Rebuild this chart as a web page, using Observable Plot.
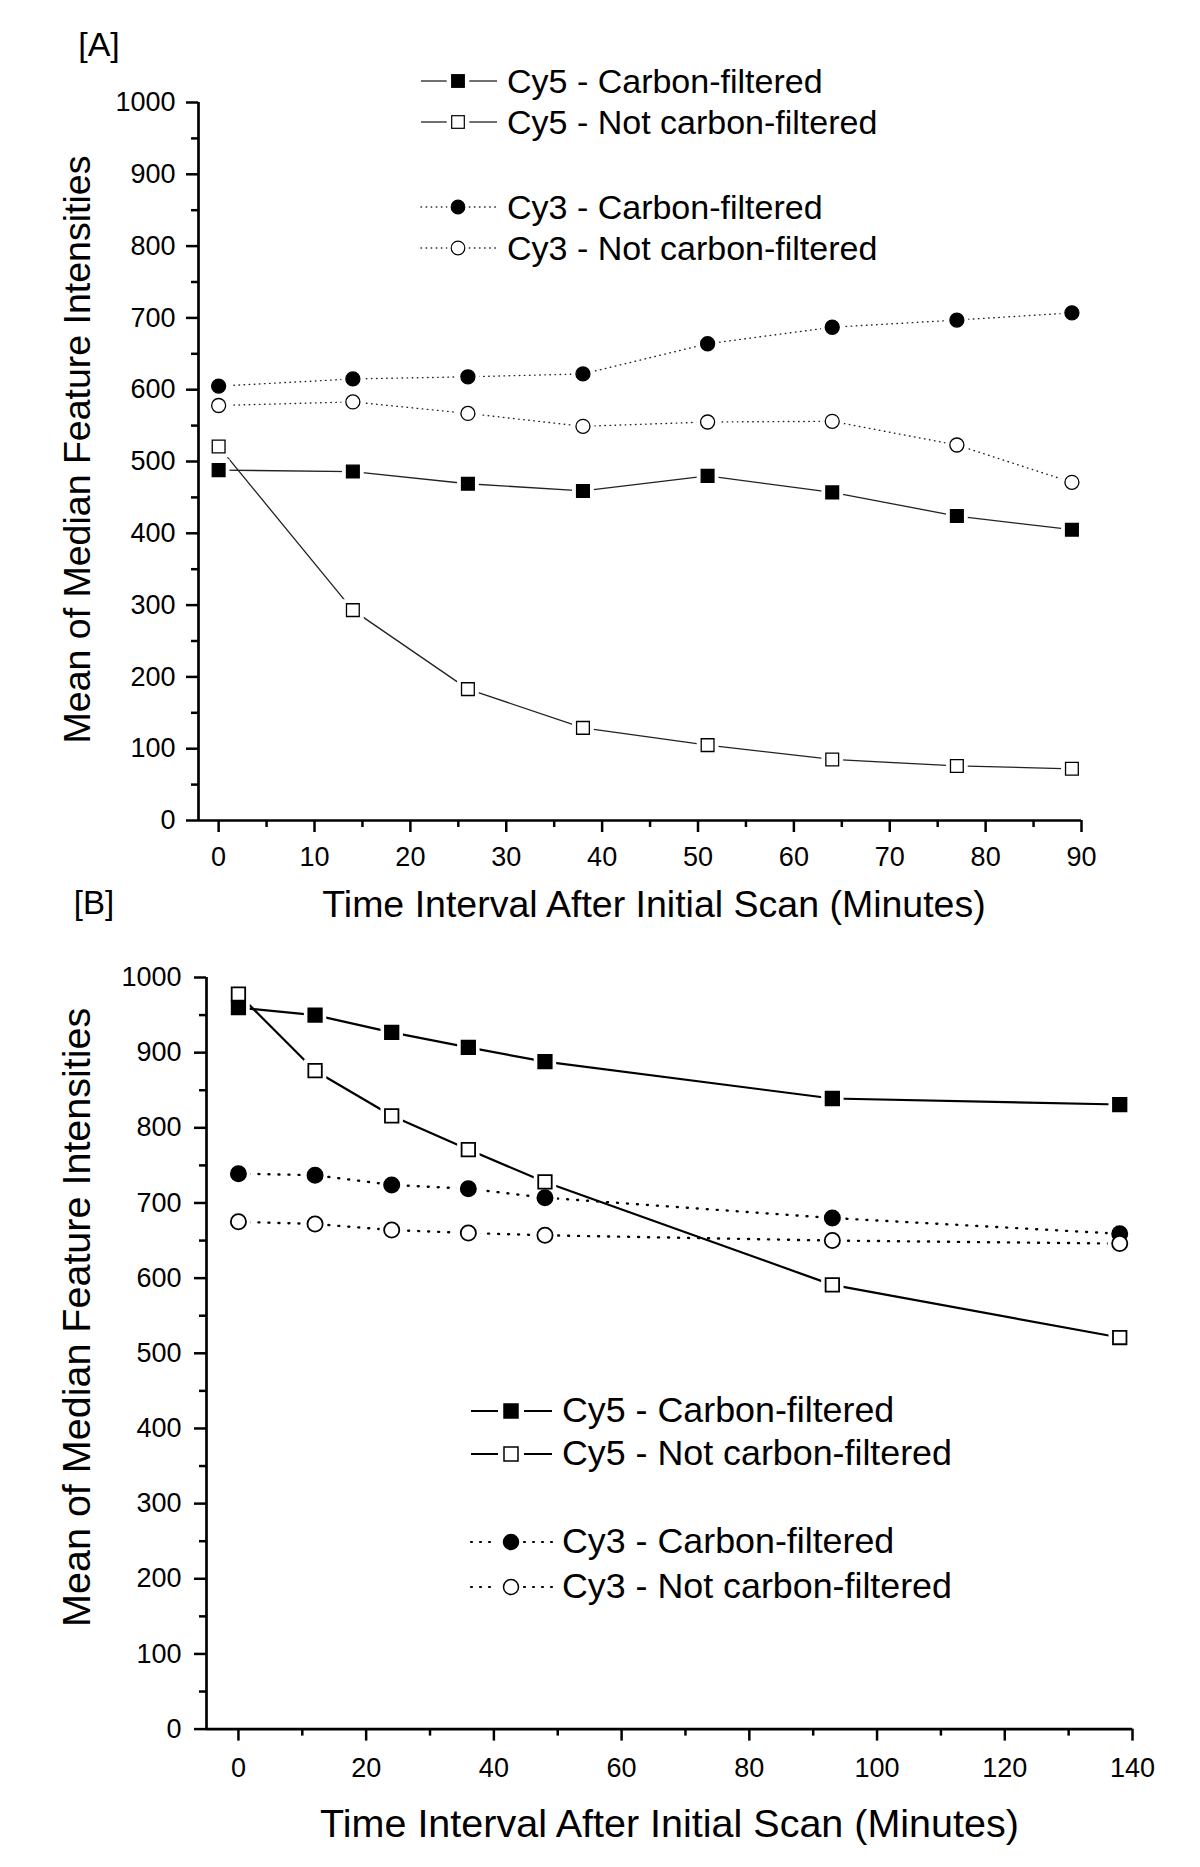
<!DOCTYPE html>
<html><head><meta charset="utf-8">
<script src="https://cdn.jsdelivr.net/npm/d3@7"></script>
<script src="https://cdn.jsdelivr.net/npm/@observablehq/plot@0.6"></script>
<style>
body{margin:0;background:#fff;}
#root{position:relative;width:1200px;height:1867px;font-family:"Liberation Sans",Arial,sans-serif;color:#000;background:#fff;overflow:hidden;}
.abs{position:absolute;}
.lbl{position:absolute;white-space:nowrap;line-height:1;transform:translateY(-50%);}
</style></head><body><div id="root"></div>
<script>
// ---------- data ----------
const seriesNames = ["Cy5 - Carbon-filtered","Cy5 - Not carbon-filtered","Cy3 - Carbon-filtered","Cy3 - Not carbon-filtered"];

const timesA = [0,14,26,38,51,64,77,89];
const cy5CarbonA    = [488,486,469,459,480,457,424,405];
const cy5NotCarbonA = [521,293,183,129,105,85,76,72];
const cy3CarbonA    = [605,615,618,622,664,687,697,707];
const cy3NotCarbonA = [578,583,567,549,555,556,523,471];

const timesB = [0,12,24,36,48,93,138];
const cy5CarbonB    = [960,950,927,907,888,839,831];
const cy5NotCarbonB = [978,876,816,771,728,591,521];
const cy3CarbonB    = [739,737,724,719,707,680,659];
const cy3NotCarbonB = [675,672,664,660,657,650,646];

const yTicks = d3.range(0,1001,100);
const yMinor = d3.range(50,1000,100);
const xTicksA = d3.range(0,91,10), xMinorA = d3.range(5,90,10);
const xTicksB = d3.range(0,141,20), xMinorB = d3.range(10,140,20);
const xDomainA = [-2.1, 90], xDomainB = [-5, 140];
const yTitle = "Mean of Median Feature Intensities";
const xTitle = "Time Interval After Initial Scan (Minutes)";

function toRows(times, arrs){
  const out=[];
  arrs.forEach((vals,i)=>vals.forEach((v,j)=>out.push({series:seriesNames[i], idx:i, t:times[j], v})));
  return out;
}

function panel(cfg){
  const data = toRows(cfg.times, cfg.arrs);
  const marks = [];
  // lines
  seriesNames.forEach((name,i)=>{
    const dotted = i>=2;
    marks.push(Plot.line(data.filter(d=>d.idx===i),{x:"t",y:"v",stroke:cfg.lineColor,
      strokeWidth: dotted?cfg.dotWidth:cfg.lineWidth,
      strokeDasharray: dotted?cfg.dash:null, strokeLinecap: dotted?"round":"butt"}));
  });
  const sq = data.filter(d=>d.idx<2), ci = data.filter(d=>d.idx>=2);
  // halos (gaps in the lines around markers)
  marks.push(Plot.dot(sq,{x:"t",y:"v",symbol:"square",r:cfg.sqR+cfg.gap/1.772*2,fill:"white",stroke:null}));
  marks.push(Plot.dot(ci,{x:"t",y:"v",symbol:"circle",r:cfg.ciR+cfg.gap,fill:"white",stroke:null}));
  // markers
  marks.push(Plot.dot(sq,{x:"t",y:"v",symbol:"square",r:cfg.sqR,fill:d=>d.idx%2===0?"black":"white",stroke:"black",strokeWidth:cfg.mw}));
  marks.push(Plot.dot(ci,{x:"t",y:"v",symbol:"circle",r:cfg.ciR,fill:d=>d.idx%2===0?"black":"white",stroke:"black",strokeWidth:cfg.mw}));
  // axes
  const fmt = d3.format("d");
  marks.push(Plot.axisY(yTicks,{tickSize:12,tickPadding:cfg.yPad,strokeWidth:2.5,label:null,fontSize:27,tickFormat:fmt}));
  marks.push(Plot.axisY(yMinor,{tickSize:7,strokeWidth:2.5,label:null,tickFormat:()=>""}));
  marks.push(Plot.axisX(cfg.xTicks,{tickSize:12,tickPadding:cfg.xPad,strokeWidth:2.5,label:null,fontSize:27,tickFormat:fmt}));
  marks.push(Plot.axisX(cfg.xMinor,{tickSize:7,strokeWidth:2.5,label:null,tickFormat:()=>""}));
  marks.push(Plot.ruleX([cfg.xDomain[0]],{strokeWidth:2.7}));
  marks.push(Plot.ruleY([0],{strokeWidth:2.7}));
  // axis titles
  marks.push(Plot.text([yTitle],{frameAnchor:"left",dx:cfg.yTdx,dy:cfg.yTdy,rotate:-90,fontSize:cfg.titleSize,textAnchor:"middle",lineAnchor:"middle"}));
  marks.push(Plot.text([xTitle],{frameAnchor:"bottom",dx:cfg.xTdx,dy:cfg.xTdy,fontSize:cfg.titleSize,textAnchor:"middle",lineAnchor:"middle"}));
  return Plot.plot({
    width:1200, height:cfg.height,
    marginLeft:cfg.ml, marginRight:cfg.mr, marginTop:cfg.mt, marginBottom:cfg.mb,
    x:{domain:cfg.xDomain}, y:{domain:[0,1000]},
    style:{fontFamily:'"Liberation Sans", Arial, sans-serif', fontSize:"27px", color:"black", background:"white", overflow:"visible"},
    marks
  });
}

const root = document.getElementById("root");
const svgA = panel({times:timesA, arrs:[cy5CarbonA,cy5NotCarbonA,cy3CarbonA,cy3NotCarbonA],
  height:935, ml:198, mr:119, mt:102, mb:115, xDomain:xDomainA, xTicks:xTicksA, xMinor:xMinorA,
  lineColor:"#222", lineWidth:1.3, dotWidth:1.4, dash:"0.5 4.6", sqR:7.2, ciR:7, gap:4.5, mw:1.3,
  yPad:11, xPad:14, titleSize:37.5, yTdx:-121, yTdy:-12, xTdx:14, xTdy:84});
svgA.classList.add("abs"); svgA.style.left="0px"; svgA.style.top="0px";
root.appendChild(svgA);

const svgB = panel({times:timesB, arrs:[cy5CarbonB,cy5NotCarbonB,cy3CarbonB,cy3NotCarbonB],
  height:932, ml:206, mr:68, mt:42, mb:138.4, xDomain:xDomainB, xTicks:xTicksB, xMinor:xMinorB,
  lineColor:"#000", lineWidth:2.2, dotWidth:2.4, dash:"1 9", sqR:7.6, ciR:7.6, gap:4.5, mw:1.8,
  yPad:13, xPad:17, titleSize:39.5, yTdx:-129, yTdy:-36, xTdx:0, xTdy:95});
svgB.classList.add("abs"); svgB.style.left="0px"; svgB.style.top="935px";
root.appendChild(svgB);

// ---------- panel labels ----------
function label(text, cx, cy, size){
  const d=document.createElement("div"); d.className="lbl"; d.textContent=text;
  d.style.fontSize=size+"px"; d.style.top=cy+"px"; d.style.left=cx+"px";
  d.style.transform="translate(-50%,-50%)"; root.appendChild(d);
}
label("[A]",99,44,34);
label("[B]",94,902,33);

// ---------- legends ----------
const NS="http://www.w3.org/2000/svg";
function legend(L){
  L.rows.forEach((ry,i)=>{
    const dotted=i>=2, filled=i%2===0;
    const w=L.x1-L.x0+10, h=30;
    const s=document.createElementNS(NS,"svg");
    s.setAttribute("width",w); s.setAttribute("height",h);
    s.style.position="absolute"; s.style.left=(L.x0-5)+"px"; s.style.top=(ry-h/2)+"px";
    const cx=L.mx-L.x0+5, cy=h/2;
    const seg=(a,b)=>{const l=document.createElementNS(NS,"line");
      l.setAttribute("x1",a);l.setAttribute("x2",b);l.setAttribute("y1",cy);l.setAttribute("y2",cy);
      l.setAttribute("stroke",L.color); l.setAttribute("stroke-width",dotted?L.dotW:L.lineW);
      if(dotted){l.setAttribute("stroke-dasharray",L.dash);l.setAttribute("stroke-linecap","round");}
      s.appendChild(l);};
    seg(5, cx-L.half-L.gap); seg(cx+L.half+L.gap, w-5);
    let m;
    if(i<2){ m=document.createElementNS(NS,"rect");
      m.setAttribute("x",cx-L.half);m.setAttribute("y",cy-L.half);m.setAttribute("width",2*L.half);m.setAttribute("height",2*L.half);}
    else { m=document.createElementNS(NS,"circle"); m.setAttribute("cx",cx);m.setAttribute("cy",cy);m.setAttribute("r",L.half+0.5);}
    m.setAttribute("fill",filled?"black":"white"); m.setAttribute("stroke","black"); m.setAttribute("stroke-width",L.mw);
    s.appendChild(m); root.appendChild(s);
    const d=document.createElement("div"); d.className="lbl"; d.textContent=seriesNames[i];
    d.style.fontSize=L.size+"px"; d.style.left=L.tx+"px"; d.style.top=ry+"px"; root.appendChild(d);
  });
}
legend({rows:[81,122,206.5,248], x0:421, x1:497, mx:458, half:6.3, gap:5, tx:507, size:34,
  color:"#222", lineW:1.3, dotW:1.4, dash:"0.5 4.6", mw:1.2});
legend({rows:[1410.5,1454,1542.3,1586.5], x0:471, x1:552, mx:511, half:7, gap:6, tx:562, size:35.8,
  color:"#000", lineW:2, dotW:2.2, dash:"1 8", mw:1.5});
</script></body></html>
